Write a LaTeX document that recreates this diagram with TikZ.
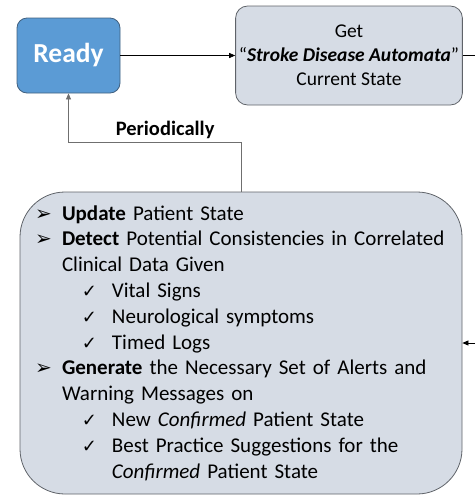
\documentclass[tikz,border=0pt]{standalone}
\usepackage{fontspec}
\setmainfont{Carlito}
\newfontfamily\symfont{DejaVu Sans}
\usetikzlibrary{arrows.meta}
\definecolor{readyblue}{HTML}{5B9BD5}
\definecolor{readyedge}{HTML}{41607F}
\definecolor{paleblue}{HTML}{D6DCE5}
\definecolor{boxedge}{HTML}{5F6369}
\definecolor{wiregray}{HTML}{6F6F6F}
\newcommand{\arrowitem}[1]{\makebox[27pt][l]{\symfont\fontsize{20}{20}\selectfont ➢}#1}
\newcommand{\checkitem}[1]{\hspace*{47pt}\makebox[30pt][l]{\symfont\fontsize{18}{18}\selectfont ✓}#1}

\begin{document}
\begin{tikzpicture}[x=1pt,y=-1pt,
    readybox/.style={draw=readyedge,fill=readyblue,rounded corners=10pt,line width=0.8pt,
      minimum width=103pt,minimum height=75pt,text=white,font=\bfseries\fontsize{27.5}{30}\selectfont},
    getbox/.style={draw=boxedge,fill=paleblue,rounded corners=12pt,line width=0.8pt,
      minimum width=226pt,minimum height=99pt,align=center,font=\fontsize{19.5}{24}\selectfont},
    taskbox/.style={draw=boxedge,fill=paleblue,rounded corners=45pt,line width=0.8pt,
      minimum width=442pt,minimum height=302pt,text width=412pt,inner xsep=15pt,
      align=left,font=\fontsize{21}{25.8}\selectfont},
    arr/.style={-{Triangle[length=6pt,width=5pt]},line width=0.7pt}]
    \useasboundingbox (0,0) rectangle (475,496);

    \node[readybox] (ready) at (68.5,55.5) {Ready};
    \node[getbox] (get) at (349,55.5) {Get\\``\textbf{\textit{Stroke Disease Automata}}''\\Current State};
    \node[taskbox] (task) at (241,343) {%
      \arrowitem{\textbf{Update} Patient State}\\
      \arrowitem{\textbf{Detect} Potential Consistencies in Correlated}\\
      \hspace*{27pt}Clinical Data Given\\
      \checkitem{Vital Signs}\\
      \checkitem{Neurological symptoms}\\
      \checkitem{Timed Logs}\\
      \arrowitem{\textbf{Generate} the Necessary Set of Alerts and}\\
      \hspace*{27pt}Warning Messages on\\
      \checkitem{New \textit{Confirmed} Patient State}\\
      \checkitem{Best Practice Suggestions for the}\\
      \hspace*{77pt}\textit{Confirmed} Patient State};

    \coordinate (outright) at (475,55.5);
    \coordinate (inright) at (475,343);

    \draw[arr] (ready) -- (get);
    \draw[line width=0.7pt] (get) -- (outright);
    \draw[arr,draw=wiregray] (task.north) -- ++(0,-49) -| node[pos=0.22,above,text=black,font=\bfseries\fontsize{20.5}{22}\selectfont] {Periodically} (ready.south);
    \draw[arr] (inright) -- (task.east);
  \end{tikzpicture}
\end{document}
